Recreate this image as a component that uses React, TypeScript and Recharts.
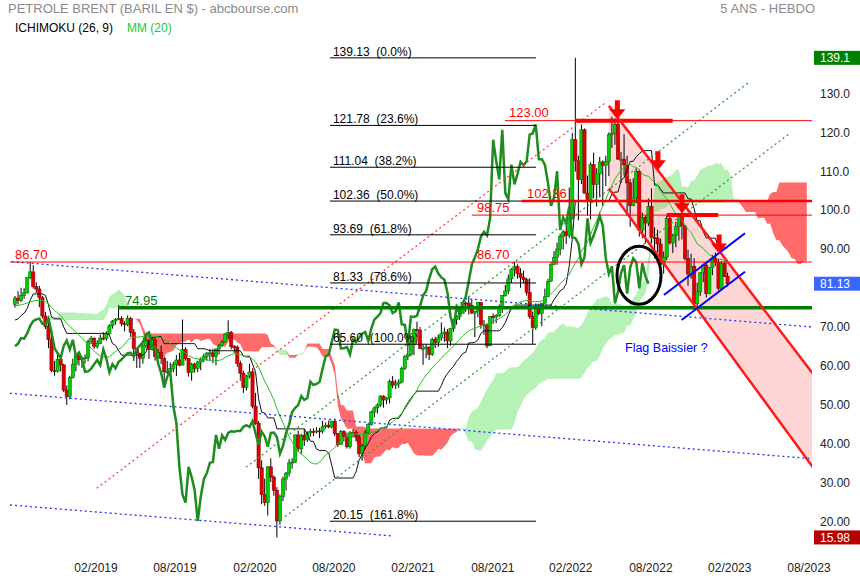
import React from 'react';
import { ComposedChart, XAxis, YAxis, Bar, Line, Area, ReferenceLine, ReferenceDot } from 'recharts';

// Brent weekly closes / highs / lows. Warm-up weeks (02/2018 - 08/2018) only feed Ichimoku and MM(20)
const warmClose = [64.37, 65.49, 66.21, 70.45, 70.27, 67.11, 72.58, 74.06, 74.64, 74.87, 77.12, 78.51, 76.44, 76.79, 76.46, 73.44, 75.55, 79.44, 77.11, 75.33, 73.07, 74.29, 73.21, 72.81, 71.83, 75.82];
const warmHigh = [67.4, 66.0, 66.7, 70.6, 71.3, 70.4, 73.1, 74.8, 75.5, 75.7, 77.6, 80.5, 80.2, 77.8, 77.9, 76.4, 76.1, 80.0, 79.6, 79.0, 75.0, 75.2, 75.3, 74.3, 73.2, 76.0];
const warmLow = [63.4, 63.1, 63.7, 65.4, 68.2, 66.6, 67.0, 71.2, 73.1, 72.5, 73.8, 76.8, 75.6, 74.3, 74.3, 72.6, 70.9, 75.5, 76.2, 72.6, 71.2, 72.0, 71.8, 70.3, 70.3, 71.5];

const close2018 = [77.42, 76.83, 78.09, 78.8, 82.72, 84.16, 80.43, 79.78, 77.62, 72.83, 70.18, 66.76, 58.8, 58.71, 61.67, 60.28, 53.82, 52.2];
const high2018 = [78.0, 79.2, 80.1, 80.0, 82.9, 86.74, 85.9, 81.5, 80.6, 78.0, 73.9, 71.3, 67.8, 61.3, 63.0, 62.0, 60.6, 55.0];
const low2018 = [75.0, 75.8, 76.4, 77.3, 78.6, 82.3, 79.9, 78.8, 75.1, 72.2, 69.5, 64.6, 58.4, 57.5, 58.3, 58.6, 53.3, 50.0];

const close2019 = [57.06, 60.48, 62.7, 61.64, 61.89, 62.1, 66.25, 67.12, 65.07, 65.74, 67.16, 67.03, 68.39, 70.34, 71.55, 71.97, 72.15, 70.85, 70.62, 72.21, 68.69, 64.49, 63.29, 62.01, 65.2, 66.55, 64.23, 66.72, 62.47, 63.46, 61.89, 58.53, 58.64, 59.34, 60.43, 61.54, 60.22, 64.28, 61.91, 58.37, 60.51, 59.42, 61.02, 61.69, 62.51, 63.3, 63.39, 62.43, 64.39, 65.22, 66.14, 68.16];
const high2019 = [57.5, 61.9, 62.9, 63.2, 62.4, 63.0, 66.8, 67.7, 67.4, 66.6, 68.1, 68.7, 68.9, 70.7, 71.8, 72.3, 75.6, 72.8, 71.5, 73.0, 72.6, 69.5, 64.6, 63.4, 66.0, 67.7, 66.9, 67.5, 67.4, 64.4, 65.2, 62.5, 61.3, 60.9, 61.1, 62.8, 63.4, 71.95, 64.8, 62.0, 60.8, 60.8, 61.3, 62.2, 63.2, 63.6, 64.4, 64.4, 64.5, 65.6, 66.6, 68.4];
const low2019 = [51.5, 56.8, 58.6, 60.1, 59.5, 60.6, 61.2, 65.6, 64.4, 64.5, 65.6, 66.6, 66.5, 68.1, 69.6, 70.6, 71.8, 70.2, 68.9, 70.2, 67.5, 61.3, 59.5, 59.5, 60.6, 64.6, 61.8, 63.9, 61.4, 61.9, 60.5, 55.9, 57.9, 57.5, 58.4, 57.4, 59.9, 63.0, 61.4, 57.3, 56.2, 58.3, 58.4, 58.9, 61.0, 61.4, 61.4, 60.7, 60.2, 63.0, 64.9, 65.9];

const close2020 = [68.6, 64.98, 64.85, 60.69, 58.16, 54.47, 57.32, 58.5, 49.67, 45.27, 33.85, 26.98, 24.93, 34.11, 31.48, 28.08, 20.2, 26.44, 30.97, 32.5, 35.13, 35.33, 42.3, 38.73, 42.19, 41.02, 42.8, 43.24, 43.14, 43.34, 43.3, 44.4, 44.8, 44.35, 45.81, 42.66, 39.83, 43.15, 41.92, 39.27, 42.85, 42.93, 41.77, 37.46, 39.45, 42.78, 44.96, 48.18, 49.25, 49.97, 52.26, 51.29, 51.8];
const high2020 = [71.75, 69.0, 65.4, 65.3, 61.4, 58.8, 57.7, 60.6, 59.4, 53.1, 45.9, 35.8, 31.1, 34.3, 36.3, 31.9, 28.9, 27.0, 31.6, 32.8, 36.1, 36.3, 42.4, 43.4, 42.6, 43.9, 43.2, 43.9, 44.0, 44.3, 44.1, 45.9, 45.5, 46.0, 46.0, 46.5, 42.8, 43.6, 43.5, 42.9, 43.3, 43.8, 43.5, 42.3, 40.0, 43.5, 45.3, 48.5, 49.6, 50.4, 52.5, 52.5, 52.0];
const low2020 = [67.0, 64.3, 63.4, 59.8, 56.2, 53.1, 53.7, 56.8, 49.1, 44.9, 31.0, 24.5, 24.1, 21.6, 30.2, 26.7, 15.98, 19.2, 25.3, 28.0, 31.6, 33.6, 35.1, 37.9, 37.3, 39.5, 40.5, 41.8, 42.0, 42.7, 41.5, 42.7, 43.9, 44.0, 44.0, 42.0, 39.2, 39.8, 40.6, 38.8, 38.8, 41.6, 40.7, 36.6, 35.7, 38.6, 42.4, 44.7, 46.8, 47.8, 49.5, 49.3, 50.2];

const close2021 = [55.99, 55.1, 55.41, 55.88, 59.34, 62.43, 62.91, 66.13, 69.36, 69.22, 64.53, 64.57, 64.86, 62.95, 66.77, 66.11, 67.25, 68.28, 68.71, 66.44, 69.63, 71.89, 72.69, 73.51, 76.18, 76.17, 75.55, 73.59, 74.1, 76.33, 70.7, 70.59, 65.18, 72.7, 72.61, 72.92, 75.34, 78.09, 79.28, 82.39, 84.86, 85.53, 83.72, 82.74, 82.17, 78.89, 72.72, 69.88, 75.15, 73.52, 76.14, 77.78];
const high2021 = [56.5, 57.4, 56.5, 56.6, 59.8, 62.8, 65.5, 67.7, 69.6, 71.4, 70.0, 65.5, 65.6, 65.0, 67.3, 67.5, 68.1, 71.2, 69.9, 69.5, 69.8, 72.0, 73.1, 74.9, 76.2, 76.6, 77.8, 77.0, 74.2, 76.4, 76.3, 71.8, 71.0, 72.8, 73.5, 73.3, 75.8, 78.2, 80.8, 83.5, 85.1, 86.7, 86.1, 85.1, 84.5, 82.6, 82.5, 74.0, 76.1, 76.0, 76.2, 79.9];
const low2021 = [50.4, 54.3, 54.1, 54.4, 55.6, 59.0, 61.5, 62.5, 62.8, 67.6, 64.4, 60.3, 62.0, 61.5, 62.6, 64.6, 64.9, 66.5, 66.2, 64.6, 65.2, 68.8, 70.6, 71.9, 73.5, 73.9, 73.2, 73.3, 67.4, 72.5, 69.6, 68.0, 64.6, 65.2, 70.8, 71.0, 72.6, 73.6, 77.8, 78.5, 81.3, 83.0, 82.4, 80.1, 81.3, 78.1, 72.1, 65.7, 69.3, 73.0, 70.2, 76.0];

const close2022 = [81.75, 86.06, 87.89, 90.03, 93.27, 94.44, 93.54, 97.93, 118.11, 112.67, 107.93, 120.65, 104.39, 102.78, 111.7, 106.65, 109.34, 112.39, 111.55, 112.55, 119.43, 119.72, 122.01, 113.12, 113.12, 111.63, 107.02, 101.16, 103.2, 110.01, 94.92, 98.15, 96.72, 100.99, 93.02, 92.84, 91.35, 86.15, 87.96, 97.92, 91.63, 93.5, 95.77, 98.57, 95.99, 87.62, 83.63, 85.57, 76.1, 79.04, 83.92, 85.91];
const high2022 = [82.4, 86.7, 89.5, 91.7, 94.0, 95.0, 97.0, 105.8, 119.8, 139.13, 114.0, 122.0, 121.0, 108.9, 112.3, 114.8, 110.8, 113.7, 112.8, 114.0, 120.0, 124.0, 123.6, 125.2, 115.0, 119.5, 114.0, 108.0, 108.2, 110.6, 110.5, 99.4, 98.7, 103.0, 105.6, 95.6, 95.0, 92.7, 89.4, 98.7, 98.8, 94.0, 97.0, 98.8, 99.6, 96.0, 89.9, 88.8, 87.7, 81.4, 84.1, 86.3];
const low2022 = [77.7, 81.6, 85.9, 86.0, 88.4, 89.9, 91.3, 92.9, 97.6, 109.9, 97.4, 106.7, 104.3, 98.6, 97.6, 103.1, 100.9, 103.3, 101.1, 106.2, 108.8, 116.0, 116.8, 113.0, 107.0, 108.9, 98.5, 95.7, 101.1, 101.8, 93.2, 92.8, 91.5, 96.0, 91.5, 87.7, 89.2, 85.6, 83.7, 87.2, 91.2, 89.0, 90.5, 92.2, 92.5, 87.1, 80.6, 82.4, 75.6, 75.1, 78.0, 81.5];

const close2023 = [78.57, 85.28, 87.63, 86.66, 79.94, 86.39, 83.0, 81.13];
const high2023 = [86.7, 85.4, 88.5, 89.1, 87.5, 86.9, 86.9, 84.0];
const low2023 = [77.6, 78.4, 83.3, 85.7, 79.4, 79.9, 82.9, 80.4];

const xTickIdx = [26.6, 52.5, 78.8, 104.7, 130.7, 156.9, 182.5, 208.8, 234.7, 260.7];
const xTickLabels = ['02/2019', '08/2019', '02/2020', '08/2020', '02/2021', '08/2021', '02/2022', '08/2022', '02/2023', '08/2023'];
const yTicks = [20, 30, 40, 50, 60, 70, 90, 100, 110, 120, 130];

const fibLevels = [139.13, 121.78, 111.04, 102.36, 93.69, 81.33, 65.6, 20.15];
const fibPct = ['0.0%', '23.6%', '38.2%', '50.0%', '61.8%', '78.6%', '100.0%', '161.8%'];

const FONT = "'Liberation Sans', Arial, sans-serif";
const NARROW = "'Liberation Sans Narrow', 'Arial Narrow', 'Liberation Sans', Arial, sans-serif";
const X_END = 262;

const closeAll = [...warmClose, ...close2018, ...close2019, ...close2020, ...close2021, ...close2022, ...close2023];
const highAll = [...warmHigh, ...high2018, ...high2019, ...high2020, ...high2021, ...high2022, ...high2023];
const lowAll = [...warmLow, ...low2018, ...low2019, ...low2020, ...low2021, ...low2022, ...low2023];
const W = warmClose.length;
const N = closeAll.length - W;

function midRange(k: number, n: number) {
  let hi = -Infinity;
  let lo = Infinity;
  for (let j = Math.max(0, k - n + 1); j <= k; j++) {
    hi = Math.max(hi, highAll[j]);
    lo = Math.min(lo, lowAll[j]);
  }
  return (hi + lo) / 2;
}

// channel corners (week index, price)
const chanStart = { i: 195, up: 126.8, lo: 105.6 };
const chanEnd = { i: X_END, up: 58.0, lo: 34.0 };

const rows: any[] = [];
for (let i = 0; i < N + 26; i++) {
  const k = W + i;
  const row: any = { i };
  if (i < N) {
    const o = closeAll[k - 1];
    const c = closeAll[k];
    const h = Math.max(highAll[k], o, c);
    const l = Math.min(lowAll[k], o, c);
    Object.assign(row, { o, c, h, l, hl: [l, h] });
    row.kijun = midRange(k, 26);
    let s = 0;
    for (let j = k - 19; j <= k; j++) s += closeAll[j];
    row.mm = s / 20;
    if (i + 26 < N) row.chikou = closeAll[k + 26];
  }
  const src = k - 26;
  const a = (midRange(src, 9) + midRange(src, 26)) / 2;
  const b = midRange(src, 52);
  const top = Math.max(a, b);
  row.cloudG = [b, top];
  row.cloudR = [a, top];
  if (i === chanStart.i) row.chan = [chanStart.lo, chanStart.up];
  rows.push(row);
}
rows.push({ i: 261 });
rows.push({ i: X_END, chan: [chanEnd.lo, chanEnd.up] });

const Candle = (p: any) => {
  const { x, y, width, height, payload } = p;
  if (!payload || payload.hl == null) return null;
  const { o, c, h, l } = payload;
  const top = Math.min(y, y + height);
  const hgt = Math.abs(height);
  const py = (v: number) => top + ((h - v) / (h - l || 1)) * hgt;
  const cx = x + width / 2;
  const up = c >= o;
  const bt = py(Math.max(o, c));
  const bb = py(Math.min(o, c));
  return (
    <g>
      <line x1={cx} x2={cx} y1={top} y2={top + hgt} stroke="#000" strokeWidth={1} />
      <rect x={cx - 1.6} y={bt} width={3.2} height={Math.max(bb - bt, 1)}
        fill={up ? '#00d000' : '#e00000'} stroke={up ? '#007a00' : '#8a0000'} strokeWidth={0.6} />
    </g>
  );
};

const textAt = (text: string, color: string, size: number) => (p: any) => (
  <text x={p.cx} y={p.cy} fill={color} fontSize={size} fontFamily={FONT} style={{ whiteSpace: 'pre' }}>{text}</text>
);

const priceBox = (text: string, bg: string) => (p: any) => (
  <g>
    <rect x={p.cx + 2} y={p.cy - 7} width={46} height={14} fill={bg} />
    <text x={p.cx + 8} y={p.cy + 4.5} fill="#fff" fontSize={12} fontFamily={FONT}>{text}</text>
  </g>
);

const arrowShape = (p: any) => (
  <path d={`M${p.cx - 2.5},${p.cy - 19} h5 v9 h5.5 L${p.cx},${p.cy} L${p.cx - 8},${p.cy - 10} h5.5 z`} fill="#ff0000" />
);

const ellipseShape = (p: any) => (
  <ellipse cx={p.cx} cy={p.cy} rx={22} ry={29} fill="none" stroke="#000" strokeWidth={3} />
);

const seg = (x1: number, y1: number, x2: number, y2: number) => [{ x: x1, y: y1 }, { x: x2, y: y2 }];

export default function App() {
  return (
    <div style={{ position: 'fixed', left: 0, top: 0, width: 860, height: 580, background: '#fff', fontFamily: FONT }}>
      <div style={{ position: 'absolute', left: 8, top: 1, fontSize: 13, color: '#8a8a8a', lineHeight: '16px' }}>
        PETROLE BRENT (BARIL EN $) - abcbourse.com
      </div>
      <div style={{ position: 'absolute', right: 45, top: 1, fontSize: 13, color: '#8a8a8a', lineHeight: '16px' }}>
        5 ANS - HEBDO
      </div>
      <div style={{ position: 'absolute', left: 15, top: 20, fontSize: 12, color: '#000', lineHeight: '16px' }}>
        ICHIMOKU (26, 9)
      </div>
      <div style={{ position: 'absolute', left: 127, top: 20, fontSize: 12, color: '#1ec81e', lineHeight: '16px' }}>
        MM (20)
      </div>
      <ComposedChart width={860} height={580} data={rows} margin={{ top: 42, right: 0, bottom: 0, left: 10 }}>
        <XAxis type="number" dataKey="i" domain={[-1.64, 261.7]} allowDataOverflow ticks={xTickIdx} interval={0}
          tickFormatter={(v: number) => xTickLabels[xTickIdx.indexOf(v)] || ''}
          axisLine={false} tickLine={false} height={32} tickMargin={9}
          tick={{ fontSize: 12, fill: '#222', fontFamily: NARROW }} />
        <YAxis orientation="right" domain={[13.27, 143.2]} allowDataOverflow ticks={yTicks} interval={0}
          tickFormatter={(v: number) => (v >= 100 ? v.toFixed(1) : v.toFixed(2))}
          axisLine={false} tickLine={false} width={48}
          tick={{ fontSize: 12, fill: '#222', fontFamily: FONT }} />

        <Area dataKey="chan" connectNulls fill="#ffcccc" fillOpacity={0.8} stroke="none" dot={false} activeDot={false} isAnimationActive={false} />
        <Area dataKey="cloudR" fill="#ff5a5a" fillOpacity={0.9} stroke="none" dot={false} activeDot={false} isAnimationActive={false} />
        <Area dataKey="cloudG" fill="#5ee05e" fillOpacity={0.45} stroke="none" dot={false} activeDot={false} isAnimationActive={false} />

        <Bar dataKey="hl" barSize={3} shape={(p: any) => <Candle {...p} />} isAnimationActive={false} />

        <Line dataKey="kijun" stroke="#111" strokeWidth={1} dot={false} activeDot={false} isAnimationActive={false} />
        <Line dataKey="mm" stroke="#22c022" strokeWidth={1} dot={false} activeDot={false} isAnimationActive={false} />
        <Line dataKey="chikou" stroke="#1e8c1e" strokeWidth={2.5} dot={false} activeDot={false} isAnimationActive={false} />

        {/* dotted trend lines */}
        <ReferenceLine segment={seg(-1.08, 86.79, 261.7, 70.02)} stroke="#2233ff" strokeDasharray="2 3" strokeWidth={1.3} ifOverflow="visible" />
        <ReferenceLine segment={seg(-1.64, 52.99, 261.7, 36.2)} stroke="#2233ff" strokeDasharray="2 3" strokeWidth={1.3} ifOverflow="visible" />
        <ReferenceLine segment={seg(-1.64, 24.31, 124.2, 16.35)} stroke="#2233ff" strokeDasharray="2 3" strokeWidth={1.3} ifOverflow="visible" />
        <ReferenceLine segment={seg(26.83, 28.6, 194.3, 127.87)} stroke="#ff4040" strokeDasharray="2 3" strokeWidth={1.3} ifOverflow="visible" />
        <ReferenceLine segment={seg(75.85, 33.99, 240.8, 132.75)} stroke="#33a033" strokeDasharray="2 3" strokeWidth={1.3} ifOverflow="visible" />
        <ReferenceLine segment={seg(88.66, 21.31, 254.7, 119.91)} stroke="#33a033" strokeDasharray="2 3" strokeWidth={1.3} ifOverflow="visible" />

        {/* fibonacci retracement */}
        {fibLevels.map((v) => (
          <ReferenceLine key={'f' + v} segment={seg(103.43, v, 171.07, v)} stroke="#000" strokeWidth={1} ifOverflow="visible" />
        ))}
        {fibLevels.map((v, k) => (
          <ReferenceDot key={'fl' + v} x={104.4} y={v + 0.55} r={0} ifOverflow="visible"
            shape={textAt(`${v.toFixed(2)}\u00a0 (${fibPct[k]})`, '#000', 12)} />
        ))}

        {/* horizontal levels */}
        <ReferenceLine y={86.7} stroke="#ff0000" strokeWidth={1} ifOverflow="visible" />
        <ReferenceLine segment={seg(33.8, 74.95, X_END, 74.95)} stroke="#007a00" strokeWidth={3.5} ifOverflow="hidden" />
        <ReferenceLine segment={seg(160.9, 123, X_END, 123)} stroke="#ff0000" strokeWidth={1} ifOverflow="hidden" />
        <ReferenceLine segment={seg(183.9, 123, 215.96, 123)} stroke="#ff0000" strokeWidth={4} ifOverflow="visible" />
        <ReferenceLine segment={seg(166.4, 102.36, X_END, 102.36)} stroke="#ff0000" strokeWidth={2.5} ifOverflow="hidden" />
        <ReferenceLine segment={seg(150.0, 98.75, X_END, 98.75)} stroke="#ff0000" strokeWidth={1} ifOverflow="hidden" />
        <ReferenceLine segment={seg(214.0, 98.75, 230.9, 98.75)} stroke="#ff0000" strokeWidth={4} ifOverflow="visible" />

        {/* descending channel */}
        <ReferenceLine segment={seg(chanStart.i, chanStart.up, chanEnd.i, chanEnd.up)} stroke="#ff1a1a" strokeWidth={2.5} ifOverflow="hidden" />
        <ReferenceLine segment={seg(chanStart.i, chanStart.lo, chanEnd.i, chanEnd.lo)} stroke="#ff1a1a" strokeWidth={2.5} ifOverflow="hidden" />

        {/* flag */}
        <ReferenceLine segment={seg(213.1, 78.24, 239.7, 94.1)} stroke="#0000ff" strokeWidth={2} ifOverflow="visible" />
        <ReferenceLine segment={seg(218.9, 71.8, 239.7, 84.2)} stroke="#0000ff" strokeWidth={2} ifOverflow="visible" />

        <ReferenceDot x={204.9} y={83.3} r={0} ifOverflow="visible" shape={ellipseShape} />
        <ReferenceDot x={197.8} y={123.35} r={0} ifOverflow="visible" shape={arrowShape} />
        <ReferenceDot x={211.1} y={110.3} r={0} ifOverflow="visible" shape={arrowShape} />
        <ReferenceDot x={219.0} y={99.2} r={0} ifOverflow="visible" shape={arrowShape} />
        <ReferenceDot x={231.2} y={88.9} r={0} ifOverflow="visible" shape={arrowShape} />

        {/* labels */}
        <ReferenceDot x={0} y={87.48} r={0} ifOverflow="visible" shape={textAt('86.70', '#ff0000', 13)} />
        <ReferenceDot x={151.7} y={87.48} r={0} ifOverflow="visible" shape={textAt('86.70', '#ff0000', 13)} />
        <ReferenceDot x={36.1} y={75.67} r={0} ifOverflow="visible" shape={textAt('74.95', '#007a00', 13)} />
        <ReferenceDot x={162.2} y={123.94} r={0} ifOverflow="visible" shape={textAt('123.00', '#ff0000', 13)} />
        <ReferenceDot x={168.1} y={103.14} r={0} ifOverflow="visible" shape={textAt('102.36', '#ff0000', 13)} />
        <ReferenceDot x={151.7} y={99.55} r={0} ifOverflow="visible" shape={textAt('98.75', '#ff0000', 13)} />
        <ReferenceDot x={200.3} y={63.6} r={0} ifOverflow="visible" shape={textAt('Flag Baissier ?', '#0000ff', 12.5)} />

        {/* price boxes on the right */}
        <ReferenceDot x={261.7} y={139.13} r={0} ifOverflow="visible" shape={priceBox('139.1', '#008000')} />
        <ReferenceDot x={261.7} y={81.13} r={0} ifOverflow="visible" shape={priceBox('81.13', '#3a66ff')} />
        <ReferenceDot x={261.7} y={15.98} r={0} ifOverflow="visible" shape={priceBox('15.98', '#b80000')} />
      </ComposedChart>
    </div>
  );
}
